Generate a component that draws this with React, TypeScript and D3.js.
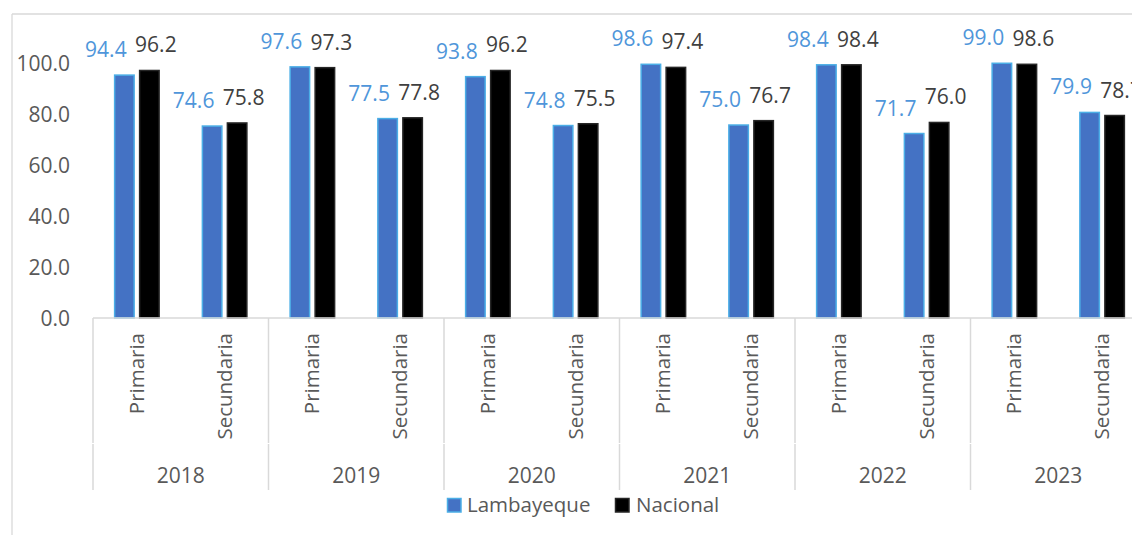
import React from "react";
import * as d3 from "d3";

const years = ["2018", "2019", "2020", "2021", "2022", "2023"];
const levels = ["Primaria", "Secundaria"];
const seriesNames = ["Lambayeque", "Nacional"];
const lambayeque = [94.4, 74.6, 97.6, 77.5, 93.8, 74.8, 98.6, 75.0, 98.4, 71.7, 99.0, 79.9];
const nacional = [96.2, 75.8, 97.3, 77.8, 96.2, 75.5, 97.4, 76.7, 98.4, 76.0, 98.6, 78.7];
const yTicks = [0, 20, 40, 60, 80, 100];

const W = 1132;
const H = 535;
const FONT = "'Open Sans', 'Noto Sans', sans-serif";

export default function App() {
  const plotLeft = 93;
  const groupW = 175.5;
  const y0 = 318;
  const y = d3.scaleLinear().domain([0, 100]).range([y0, y0 - 257.3]);
  const yTickScale = d3.scaleLinear().domain([0, 100]).range([y0, y0 - 255.5]);

  const catKeys: string[] = [];
  years.forEach((yr) => levels.forEach((lv) => catKeys.push(yr + "|" + lv)));
  const x0 = d3
    .scaleBand<string>()
    .domain(catKeys)
    .range([plotLeft, plotLeft + groupW * years.length])
    .padding(0);
  const bw = x0.bandwidth();
  const x1 = d3
    .scaleBand<string>()
    .domain(seriesNames)
    .range([bw / 2 - 23, bw / 2 + 23])
    .paddingInner(0.16)
    .paddingOuter(0);
  const gx = d3
    .scaleBand<string>()
    .domain(years)
    .range([plotLeft, plotLeft + groupW * years.length]);

  const fmt = d3.format(".1f");
  const series = [
    { name: seriesNames[0], values: lambayeque, fill: "#4472C4", stroke: "#4BAEE6", label: "#4F96DA", dx: -31 },
    { name: seriesNames[1], values: nacional, fill: "#000000", stroke: "#262626", label: "#404040", dx: 19 },
  ];

  return (
    <svg
      width={W}
      height={H}
      style={{ position: "absolute", left: 0, top: 0, background: "#fff" }}
      fontFamily={FONT}
    >
      <rect x={0} y={0} width={W} height={H} fill="#fff" />
      {/* chart border */}
      <line x1={12} y1={14} x2={W + 5} y2={14} stroke="#D9D9D9" strokeWidth={1.3} />
      <line x1={12} y1={14} x2={12} y2={H + 5} stroke="#D9D9D9" strokeWidth={1.3} />

      {/* y tick labels */}
      {yTicks.map((t) => (
        <text
          key={t}
          x={70}
          y={yTickScale(t) + 1}
          dy="0.35em"
          textAnchor="end"
          fontSize={21}
          fill="#595959"
        >
          {fmt(t)}
        </text>
      ))}

      {/* bars */}
      {series.map((s) =>
        s.values.map((v, i) => {
          const key = catKeys[i];
          const bx = (x0(key) as number) + (x1(s.name) as number);
          return (
            <rect
              key={s.name + i}
              x={bx + 0.75}
              y={y(v)}
              width={x1.bandwidth() - 1.5}
              height={y0 - y(v)}
              fill={s.fill}
              stroke={s.stroke}
              strokeWidth={1.5}
            />
          );
        })
      )}

      {/* data labels */}
      {series.map((s) =>
        s.values.map((v, i) => {
          const key = catKeys[i];
          const cx = (x0(key) as number) + bw / 2 + s.dx;
          return (
            <text
              key={"l" + s.name + i}
              x={cx}
              y={y(v) - 18}
              textAnchor="middle"
              fontSize={21}
              fill={s.label}
            >
              {fmt(v)}
            </text>
          );
        })
      )}

      {/* x axis baseline */}
      <line x1={plotLeft} y1={y0} x2={W + 5} y2={y0} stroke="#D9D9D9" strokeWidth={1.5} />

      {/* group separators */}
      {d3.range(years.length + 1).map((k) => {
        const xx = plotLeft + groupW * k;
        return (
          <g key={"sep" + k}>
            <line x1={xx} y1={y0} x2={xx} y2={443} stroke="#D9D9D9" strokeWidth={1.5} />
            <line x1={xx} y1={444} x2={xx} y2={490} stroke="#D9D9D9" strokeWidth={1.5} />
          </g>
        );
      })}

      {/* category labels rotated */}
      {catKeys.map((key) => {
        const lv = key.split("|")[1];
        const cx = (x0(key) as number) + bw / 2;
        return (
          <text
            key={"c" + key}
            transform={`translate(${cx + 7},${333}) rotate(-90)`}
            textAnchor="end"
            fontSize={20.5}
            fill="#595959"
          >
            {lv}
          </text>
        );
      })}

      {/* year labels */}
      {years.map((yr) => (
        <text
          key={"y" + yr}
          x={(gx(yr) as number) + gx.bandwidth() / 2}
          y={482.5}
          textAnchor="middle"
          fontSize={21}
          fill="#595959"
        >
          {yr}
        </text>
      ))}

      {/* legend */}
      <g>
        <rect x={447.5} y={498.5} width={13.5} height={13.5} fill="#4472C4" stroke="#4BAEE6" strokeWidth={1.5} />
        <text x={467} y={511.5} fontSize={20.5} fill="#595959">
          {seriesNames[0]}
        </text>
        <rect x={615.5} y={498.5} width={13.5} height={13.5} fill="#000" stroke="#262626" strokeWidth={1.5} />
        <text x={636} y={511.5} fontSize={20.5} fill="#595959">
          {seriesNames[1]}
        </text>
      </g>
    </svg>
  );
}
